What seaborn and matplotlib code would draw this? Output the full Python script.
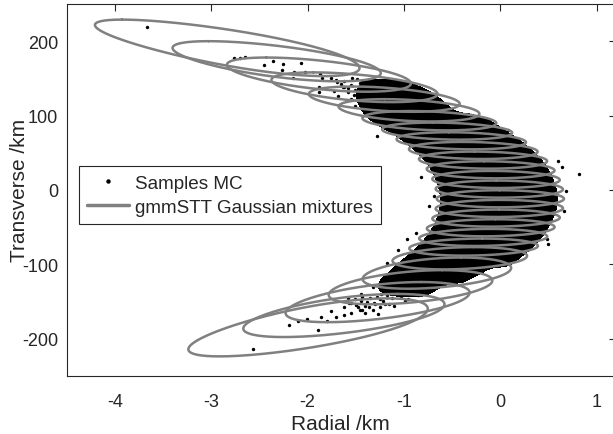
import numpy as np
import pandas as pd
import matplotlib
matplotlib.use("Agg")
import matplotlib.pyplot as plt
from matplotlib.colors import ListedColormap
from matplotlib.lines import Line2D
import seaborn as sns

sns.set_theme(style="white")
plt.rcParams["font.family"] = ["Liberation Sans", "DejaVu Sans"]
plt.rcParams["axes.unicode_minus"] = False

# ---------------------------------------------------------------------------
# Monte Carlo samples: radial [km], transverse [km]
# sparse samples in the tails and outside the band
# ---------------------------------------------------------------------------
tail_radial = [
    -3.66, -2.76, -2.70, -2.65, -2.45, -2.36, -2.25, -2.07, -2.27, -2.14,
    -2.15, -2.03, -1.87, -1.85, -1.76, -1.69, -1.65, -1.63, -1.58, -1.51,
    -1.88, -1.88, -1.73, -1.68, -1.55, -1.51, -1.49, -1.43, -1.34, -1.27,
    -1.15,
    -1.62, -1.55, -1.47, -1.40, -1.58, -1.52, -1.44, -1.38, -1.33, -1.29,
    -1.21, -1.19, -1.14, -1.10, -1.03, -0.97, -0.93, -0.86, -0.82, -0.78,
    -0.70, -0.64, -1.70, -1.62, -1.54, -1.46, -1.36, -1.25, -1.20, -1.30,
    -1.58, -1.55, -1.51, -1.44, -1.43, -1.38, -1.32, -1.31, -1.25, -1.24,
    -1.20, -1.17, -1.13, -1.10, -1.05, -1.03, -0.99, -0.96, -0.93, -0.89,
    -1.27, -1.57, -1.48, -2.19, -2.10, -2.01, -1.89, -1.86, -1.80, -1.76,
    -1.71, -2.57,
    -1.62, -1.50, -1.45, -1.40, -1.35, -1.28, -1.22, -1.18, -1.12, -1.08,
    -1.02, -0.97, -0.92, -0.86, -0.80, -0.75, -0.70, -1.36, -1.30, -1.15,
    -0.85, -0.78, -0.66, -1.46, -1.55, -1.62, -1.40, -1.10, -0.96, -1.25,
    -1.28, -0.82, -0.74, -0.69, -0.87, -0.97, -1.06, -1.18, 0.60, 0.64,
    0.82, 0.68, 0.66, 0.49, 0.48, 0.08,
]
tail_transverse = [
    218.7, 177.4, 177.4, 178.3, 168.0, 173.5, 169.0, 170.0, 161.5, 158.0,
    150.4, 158.5, 155.5, 150.4, 151.0, 144.6, 142.4, 137.9, 136.6, 134.7,
    137.9, 131.0, 132.5, 125.8, 122.2, 113.1, 149.0, 146.0, 137.9, 135.6,
    133.3,
    138.0, 141.0, 139.0, 142.0, 132.0, 128.0, 134.0, 127.0, 136.0, 131.0,
    133.0, 126.0, 129.0, 120.0, 124.0, 126.0, 117.0, 120.0, 112.0, 124.0,
    115.0, 112.0, 148.0, 146.0, 150.0, 144.0, 147.0, 140.0, 138.0, 143.0,
    -144.9, -151.7, -147.2, -143.6, -161.6, -150.3, -161.6, -151.7, -147.2, -140.5,
    -153.9, -133.7, -138.2, -129.3, -133.7, -142.8, -149.5, -140.5, -131.4, -138.2,
    -167.4, -152.6, -157.0, -181.8, -176.4, -174.1, -189.0, -170.5, -176.4, -163.0,
    -171.0, -213.6,
    -158.0, -155.0, -150.0, -156.0, -146.0, -144.0, -149.0, -141.0, -145.0, -136.0,
    -139.0, -133.0, -136.0, -128.0, -131.0, -124.0, -127.0, -158.0, -153.0, -153.0,
    -141.0, -138.0, -122.0, -162.0, -165.0, -168.0, -165.0, -156.0, -147.0, -158.0,
    71.9, 16.7, -21.5, -8.9, -57.4, -66.4, -80.8, -97.8, 39.0, 30.2,
    21.1, -1.3, -28.3, -73.1, -66.4, 80.8,
]

# samples in the dense core of the cloud
core_radial = [
    -1.45, -1.40, -1.36, -1.30, -1.25, -1.22, -1.18, -1.12, -1.08, -1.05,
    -1.00, -0.98, -0.95, -0.90, -0.88, -0.85, -0.80, -0.75, -0.72, -0.68,
    -1.31, -1.12, -1.17, -0.97, -1.27, -1.05, -0.87, -0.66,
    -1.35, -1.12, -0.92, -0.72, -0.52, -0.30,
    -1.20, -0.98, -0.78, -0.58, -0.38, -0.15,
    -1.05, -0.82, -0.64, -0.45, -0.25, -0.05,
    -0.95, -0.74, -0.52, -0.33, -0.12, 0.08,
    -0.86, -0.62, -0.43, -0.22, -0.02, 0.18,
    -0.76, -0.55, -0.34, -0.14, 0.06, 0.27,
    -0.70, -0.47, -0.27, -0.06, 0.14, 0.34,
    -0.62, -0.42, -0.20, 0.00, 0.20, 0.40,
    -0.58, -0.37, -0.16, 0.05, 0.25, 0.45,
    -0.55, -0.33, -0.12, 0.08, 0.28, 0.48,
    -0.52, -0.30, -0.10, 0.10, 0.30, 0.50,
    -0.50, -0.30, -0.08, 0.12, 0.32, 0.52,
    -0.52, -0.30, -0.10, 0.10, 0.30, 0.50,
    -0.53, -0.32, -0.12, 0.08, 0.28, 0.48,
    -0.56, -0.35, -0.15, 0.05, 0.25, 0.45,
    -0.60, -0.40, -0.19, 0.01, 0.21, 0.41,
    -0.65, -0.45, -0.24, -0.04, 0.16, 0.36,
    -0.72, -0.51, -0.31, -0.11, 0.09, 0.30,
    -0.80, -0.59, -0.38, -0.18, 0.02, 0.22,
    -0.89, -0.67, -0.47, -0.27, -0.07, 0.13,
    -0.99, -0.78, -0.57, -0.37, -0.17, 0.03,
    -1.08, -0.86, -0.66, -0.46, -0.27,
    -1.20, -0.98, -0.78, -0.58, -0.40,
    -1.32, -1.10, -0.90, -0.70,
    -1.45, -1.22, -1.02, -0.82,
]
core_transverse = [
    128.0, 120.0, 131.0, 125.0, 118.0, 130.0, 112.0, 124.0, 117.0, 108.0,
    128.0, 120.0, 112.0, 104.0, 122.0, 116.0, 108.0, 118.0, 100.0, 110.0,
    127.0, 129.0, 117.0, 122.0, 113.0, 111.0, 113.0, 106.0,
    100, 101, 99, 100, 98, 101,
    90, 91, 89, 90, 92, 89,
    80, 79, 81, 80, 78, 81,
    70, 71, 69, 70, 72, 69,
    60, 61, 59, 60, 58, 61,
    50, 49, 51, 50, 52, 49,
    40, 41, 39, 40, 38, 41,
    30, 29, 31, 30, 32, 29,
    20, 21, 19, 20, 18, 21,
    10, 9, 11, 10, 12, 9,
    0, 1, -1, 0, 2, -1,
    -10, -11, -9, -10, -8, -11,
    -20, -19, -21, -20, -22, -19,
    -30, -31, -29, -30, -28, -31,
    -40, -39, -41, -40, -42, -39,
    -50, -51, -49, -50, -48, -51,
    -60, -59, -61, -60, -62, -59,
    -70, -71, -69, -70, -68, -71,
    -80, -79, -81, -80, -82, -79,
    -90, -91, -89, -90, -88, -91,
    -100, -99, -101, -100, -102, -99,
    -110, -111, -109, -110, -108,
    -120, -119, -121, -120, -122,
    -130, -131, -129, -130,
    -140, -139, -141, -140,
]

# ---------------------------------------------------------------------------
# Gaussian mixture components (contour half-widths)
# ---------------------------------------------------------------------------
gmm_transverse_mean = [191, 173, 155, 138, 122, 107, 93,
                       79, 66, 53, 40, 27, 14, 1, -12, -25, -38, -51, -64, -77,
                       -92, -112, -131, -151, -169, -185]
gmm_transverse_half = [38, 27, 23, 20, 17, 15, 13,
                       11.5, 11.5, 11.5, 11.5, 11.5, 11.5, 11.5, 11.5, 11.5,
                       11.5, 11.5, 11.5, 11.5,
                       15, 21, 23, 27, 29, 39]
gmm_radial_offset = [0.0] * 26
gmm_radial_half = [0.88, 0.84, 0.80, 0.76, 0.72, 0.69, 0.67,
                   0.66, 0.66, 0.66, 0.66, 0.66, 0.66, 0.66, 0.66, 0.66,
                   0.66, 0.66, 0.66, 0.66,
                   0.68, 0.72, 0.77, 0.82, 0.86, 0.88]

# bending of the propagated components (radial drop versus transverse)
bend_center = -12.0
bend_quad = 6.61e-5
bend_cubic = 0.6e-8

tail = pd.DataFrame({"Radial": tail_radial, "Transverse": tail_transverse})
core = pd.DataFrame({"Radial": core_radial, "Transverse": core_transverse})
samples = pd.concat([tail, core], ignore_index=True)

fig = plt.figure(figsize=(6.13, 4.35), dpi=100)
ax = fig.add_axes([0.1085, 0.134, 0.8965, 0.8545])

# dense part of the sample cloud
sns.kdeplot(data=core, x="Radial", y="Transverse", fill=True,
            levels=[0.15, 1.0], bw_adjust=0.5, cmap=ListedColormap(["black"]),
            ax=ax, zorder=1)
sns.scatterplot(data=samples, x="Radial", y="Transverse", s=6, color="black",
                linewidth=0, ax=ax, zorder=2)

# component contours
theta = np.linspace(0, 2 * np.pi, 361)
for m, a, tc, b in zip(gmm_transverse_mean, gmm_transverse_half,
                       gmm_radial_offset, gmm_radial_half):
    s = m + a * np.cos(theta)
    t = tc + b * np.sin(theta)
    u = s - bend_center
    x = t - (bend_quad * u ** 2 + bend_cubic * u ** 3)
    ax.plot(x, s, color="#808080", lw=1.8, zorder=3)

ax.set_xlim(-4.5, 1.2)
ax.set_ylim(-250, 250)
ax.set_xticks([-4, -3, -2, -1, 0, 1])
ax.set_yticks([-200, -100, 0, 100, 200])
ax.tick_params(direction="in", length=5, width=0.8, colors="#262626",
               labelsize=13, top=True, right=True, pad=6)
ax.tick_params(axis="x", pad=12.5)
for sp in ax.spines.values():
    sp.set_color("#262626")
    sp.set_linewidth(0.8)
ax.set_xlabel("Radial /km", fontsize=15, color="#262626")
ax.set_ylabel("Transverse /km", fontsize=15, color="#262626")
ax.xaxis.set_label_coords(0.4977, -0.104)
ax.yaxis.set_label_coords(-0.068, 0.5)

handles = [Line2D([], [], marker="o", ls="", color="black", markersize=2.2),
           Line2D([], [], color="#808080", lw=2.5)]
leg = ax.legend(handles, ["Samples MC", "gmmSTT Gaussian mixtures"],
                loc="upper left", bbox_to_anchor=(0.0227, 0.564),
                borderaxespad=0, fontsize=13.6, frameon=True, fancybox=False,
                edgecolor="#262626", framealpha=1, borderpad=0.45,
                handlelength=2.2, handletextpad=0.3, labelspacing=0.35)
leg.get_frame().set_linewidth(0.8)

fig.savefig("out.png", dpi=100)
